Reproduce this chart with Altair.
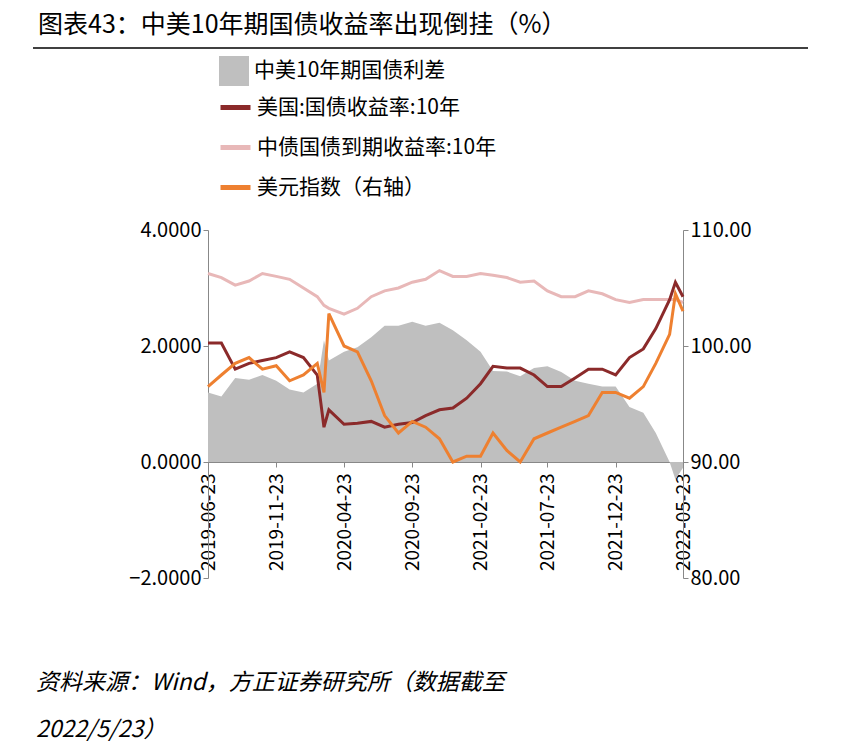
import altair as alt
import pandas as pd

FONT = "Noto Sans CJK SC"

dates = ["2019-06-23", "2019-07-23", "2019-08-23", "2019-09-23", "2019-10-23", "2019-11-23",
         "2019-12-23", "2020-01-23", "2020-02-23", "2020-03-09", "2020-03-20", "2020-04-23",
         "2020-05-23", "2020-06-23", "2020-07-23", "2020-08-23", "2020-09-23", "2020-10-23",
         "2020-11-23", "2020-12-23", "2021-01-23", "2021-02-23", "2021-03-23", "2021-04-23",
         "2021-05-23", "2021-06-23", "2021-07-23", "2021-08-23", "2021-09-23", "2021-10-23",
         "2021-11-23", "2021-12-23", "2022-01-23", "2022-02-23", "2022-03-23", "2022-04-23",
         "2022-05-06", "2022-05-23"]
us10y = [2.05, 2.05, 1.6, 1.7, 1.75, 1.8, 1.9, 1.8, 1.5, 0.6, 0.9, 0.65,
         0.67, 0.7, 0.6, 0.65, 0.68, 0.8, 0.9, 0.93, 1.1, 1.35, 1.65, 1.62,
         1.62, 1.5, 1.3, 1.3, 1.45, 1.6, 1.6, 1.5, 1.8, 1.95, 2.3, 2.8,
         3.1, 2.85]
cn10y = [3.25, 3.18, 3.05, 3.12, 3.25, 3.2, 3.15, 3.0, 2.85, 2.7, 2.65, 2.55,
         2.65, 2.85, 2.95, 3.0, 3.1, 3.15, 3.3, 3.2, 3.2, 3.25, 3.22, 3.18,
         3.1, 3.12, 2.95, 2.85, 2.85, 2.95, 2.9, 2.8, 2.75, 2.8, 2.8, 2.8,
         2.8, 2.75]
dxy = [96.5, 97.5, 98.5, 99, 98, 98.3, 97, 97.5, 98.5, 96, 102.8, 100,
       99.5, 97, 94, 92.5, 93.5, 93, 92, 90, 90.5, 90.5, 92.5, 91,
       90, 92, 92.5, 93, 93.5, 94, 96, 96, 95.5, 96.5, 98.5, 101,
       104.5, 103]

names = ["中美10年期国债利差", "美国:国债收益率:10年", "中债国债到期收益率:10年", "美元指数（右轴）"]
ticks = ["2019-06-23", "2019-11-23", "2020-04-23", "2020-09-23", "2021-02-23",
         "2021-07-23", "2021-12-23", "2022-05-23"]

df = pd.DataFrame({"date": dates, "us": us10y, "cn": cn10y, "dxy": dxy})

W, H = 475, 348
x = alt.X("date:T", title=None, scale=alt.Scale(domain=["2019-06-23", "2022-05-23"]),
          axis=alt.Axis(values=ticks, format="%Y-%m-%d", labelAngle=-90, labelAlign="right",
                        labelBaseline="middle", labelFontSize=19, labelFont=FONT, labelColor="black",
                        offset=-116, domainColor="#888", tickColor="#888", grid=False, labelPadding=6))

yl = alt.Y("v:Q", title=None, scale=alt.Scale(domain=[-2, 4]),
           axis=alt.Axis(values=[-2, 0, 2, 4], format=".4f", labelFontSize=20, labelFont=FONT,
                         labelColor="black", grid=False, domainColor="#888", tickColor="#888"))

stroke_scale = alt.Scale(domain=names[1:], range=["#8b2a2a", "#e8b8b8", "#ee8030"])
leg = alt.Legend(orient="none", legendX=10, legendY=-140, title=None, symbolType="stroke",
                 symbolStrokeWidth=5, symbolSize=900, labelFontSize=21, labelFont=FONT,
                 rowPadding=12, labelLimit=500)

area = alt.Chart(df).transform_calculate(v="datum.cn - datum.us", n="'" + names[0] + "'").mark_area(
    color="#bfbfbf").encode(
    x=x, y=yl,
    fill=alt.Fill("n:N", scale=alt.Scale(domain=names[:1], range=["#bfbfbf"]),
                  legend=alt.Legend(orient="none", legendX=10, legendY=-175, title=None,
                                    symbolType="square", symbolSize=900, labelFontSize=21,
                                    labelFont=FONT, labelLimit=500)))

lines = alt.Chart(df).transform_fold(["cn", "us"], as_=["k", "v"]).transform_calculate(
    n="datum.k == 'us' ? '" + names[1] + "' : '" + names[2] + "'").mark_line(strokeWidth=3).encode(
    x=x, y=yl, stroke=alt.Stroke("n:N", scale=stroke_scale, legend=leg))

left = alt.layer(area, lines)

right = alt.Chart(df).transform_calculate(n="'" + names[3] + "'").mark_line(strokeWidth=3).encode(
    x=x,
    y=alt.Y("dxy:Q", title=None, scale=alt.Scale(domain=[80, 110]),
            axis=alt.Axis(orient="right", values=[80, 90, 100, 110], format=".2f", labelFontSize=20,
                          labelFont=FONT, labelColor="black", grid=False, domainColor="#888",
                          tickColor="#888")),
    stroke=alt.Stroke("n:N", scale=stroke_scale, legend=leg))

one = pd.DataFrame({"a": [0]})
title = alt.Chart(one).mark_text(align="left", baseline="middle", fontSize=25, font=FONT).encode(
    x=alt.value(-170), y=alt.value(-205), text=alt.value("图表43：中美10年期国债收益率出现倒挂（%）"))
rule = alt.Chart(one).mark_rule(color="black", strokeWidth=1.5).encode(
    x=alt.value(-175), x2=alt.value(600), y=alt.value(-182))
foot1 = alt.Chart(one).mark_text(align="left", baseline="middle", fontSize=23, font=FONT,
                                 fontStyle="italic").encode(
    x=alt.value(-172), y=alt.value(453), text=alt.value("资料来源：Wind，方正证券研究所（数据截至"))
foot2 = alt.Chart(one).mark_text(align="left", baseline="middle", fontSize=23, font=FONT,
                                 fontStyle="italic").encode(
    x=alt.value(-172), y=alt.value(500), text=alt.value("2022/5/23）"))

chart = alt.layer(left, right, title, rule, foot1, foot2).resolve_scale(
    y="independent", stroke="shared").properties(
    width=W, height=H,
    autosize=alt.AutoSizeParams(type="none"),
    padding={"left": 200, "top": 222, "right": 170, "bottom": 170},
).configure_view(stroke=None)

chart.save("out.html", embed_options={"renderer": "svg", "actions": False})
